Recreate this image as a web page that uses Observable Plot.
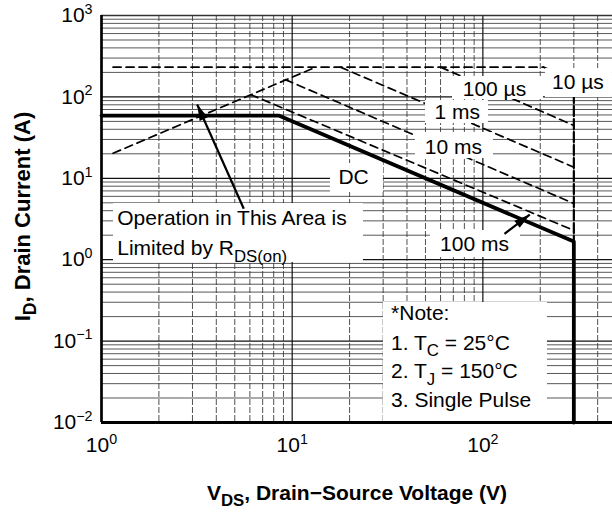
<!DOCTYPE html>
<html><head><meta charset="utf-8">
<script src="https://cdn.jsdelivr.net/npm/d3@7"></script>
<script src="https://cdn.jsdelivr.net/npm/@observablehq/plot@0.6"></script>
<style>
html,body{margin:0;padding:0;background:#fff;}
svg{display:block}
</style></head><body><div id="chart"></div>
<script>
// ---------------- data ----------------
const xTicks = [1, 10, 100];
const yTicks = [0.01, 0.1, 1, 10, 100, 1000];
const xMax = 478.5; // right edge of the visible plot (V)

// SOA boundaries: drain-source voltage V (V) / drain current I (A)
const dcV = [1, 8.5, 300, 300];
const dcI = [59, 59, 1.67, 0.01];
const rdsV = [1.15, 13.3];
const rdsI = [20.3, 232];
const idmV = [1.15, 208];
const idmI = [232, 232];
const us10V = [208, 300];
const us10I = [232, 161];
const edgeV = [300, 300];
const edgeI = [161, 1.67];
const us100V = [60, 300];
const us100I = [232, 44.5];
const ms1V = [17.9, 300];
const ms1I = [232, 13.7];
const ms10V = [9.2, 300];
const ms10I = [163, 4.9];
const ms100V = [6.04, 300];
const ms100I = [107, 2.29];

// centred labels
const labelText = ["100 µs", "10 µs", "1 ms", "10 ms", "DC", "100 ms"];
const labelV = [115, 315, 73.3, 70.1, 21.0, 90.4];
const labelI = [125.8, 150.3, 65.1, 24.2, 10.2, 1.56];

// left-aligned notes
const noteText = ["Operation in This Area is", "Limited by R_{DS(on)}", "*Note:", "1. T_{C} = 25°C", "2. T_{J} = 150°C", "3. Single Pulse"];
const noteV = [1.209, 1.209, 33, 33, 33, 33];
const noteI = [3.21, 1.373, 0.218, 0.0948, 0.0423, 0.0189];

// white label backgrounds
const boxV1 = [213, 69.3, 50.0, 44.3, 15.88, 1.156, 53.1, 30.1];
const boxV2 = [478, 207.8, 107, 113.6, 30.1, 23.65, 157.4, 218.2];
const boxI1 = [223, 178, 90.3, 36.5, 15.2, 4.90, 2.284, 0.298];
const boxI2 = [98.3, 92.9, 47.1, 17.5, 6.69, 0.924, 1.064, 0.01];

// annotation arrows (tail -> tip)
const arrowV1 = [5.574, 129.8];
const arrowI1 = [4.22, 2.08];
const arrowV2 = [3.176, 176.2];
const arrowI2 = [80.7, 3.59];

const xTitle = "V_{DS}, Drain−Source Voltage (V)";
const yTitle = "I_{D}, Drain Current (A)";
const yTitleV = 0.385, yTitleI = 3.39; // anchor of the rotated y title

// ---------------- build ----------------
const FONT = "'Liberation Sans', Arial, Helvetica, sans-serif";
const frameOpts = {
  width: 612, height: 518,
  marginLeft: 101, marginRight: 0, marginTop: 15, marginBottom: 96,
  x: {type: "log", domain: [1, xMax], axis: null},
  y: {type: "log", domain: [0.01, 1000], axis: null},
  style: {fontFamily: FONT, fontSize: "21px", background: "white", overflow: "visible", color: "black"}
};

const decadesX = [0, 1, 2], decadesY = [-2, -1, 0, 1, 2];
const minorX = decadesX.flatMap(e => d3.range(2, 10).map(k => k * 10 ** e)).filter(v => v < xMax);
const minorY = decadesY.flatMap(e => d3.range(2, 10).map(k => k * 10 ** e));
const majorX = [10, 100];
const majorY = [0.1, 1, 10, 100];

const curveDefs = [["rds", rdsV, rdsI], ["idm", idmV, idmI], ["10us", us10V, us10I],
  ["100us", us100V, us100I], ["1ms", ms1V, ms1I], ["10ms", ms10V, ms10I], ["100ms", ms100V, ms100I]];
const dashedRows = curveDefs.flatMap(([name, V, I]) => V.map((v, i) => ({name, V: v, I: I[i]})));
const dcRows = dcV.map((v, i) => ({V: v, I: dcI[i]}));
const edgeRows = edgeV.map((v, i) => ({V: v, I: edgeI[i]}));
const labels = labelText.map((t, i) => ({t, V: labelV[i], I: labelI[i]}));
const notes = noteText.map((t, i) => ({t, V: noteV[i], I: noteI[i]}));
const boxes = boxV1.map((_, i) => ({x1: boxV1[i], x2: boxV2[i], y1: boxI1[i], y2: boxI2[i]}));

const probe = Plot.plot({...frameOpts, marks: [Plot.ruleX(xTicks), Plot.ruleY(yTicks)]});
const sx = probe.scale("x"), sy = probe.scale("y");
const arrows = arrowV1.map((_, i) => {
  const dx = sx.apply(arrowV2[i]) - sx.apply(arrowV1[i]);
  const dy = sy.apply(arrowI2[i]) - sy.apply(arrowI1[i]);
  return {V1: arrowV1[i], I1: arrowI1[i], V2: arrowV2[i], I2: arrowI2[i], angle: Math.atan2(dx, -dy) * 180 / Math.PI};
});
const head = {draw(ctx) { ctx.moveTo(0, 0); ctx.lineTo(4.5, 16); ctx.lineTo(-4.5, 16); ctx.closePath(); }};

const fmtPow = d => { const e = Math.round(Math.log10(d)); return "10^{" + (e < 0 ? "−" + (-e) : e) + "}"; };

const chart = Plot.plot({
  ...frameOpts,
  marks: [
    Plot.ruleY(minorY, {stroke: "#3a3a3a", strokeWidth: 0.85}),
    Plot.ruleY(majorY, {stroke: "#111", strokeWidth: 1.2}),
    Plot.ruleX(minorX, {stroke: "#333", strokeWidth: 0.85, strokeDasharray: "6,2"}),
    Plot.ruleX(majorX, {stroke: "#111", strokeWidth: 1.2}),
    Plot.line(dashedRows, {x: "V", y: "I", z: "name", stroke: "black", strokeWidth: 1.7, strokeDasharray: "8,5"}),
    Plot.line(edgeRows, {x: "V", y: "I", stroke: "black", strokeWidth: 2.2, strokeDasharray: "10,3"}),
    Plot.line(dcRows, {x: "V", y: "I", stroke: "black", strokeWidth: 3.8}),
    Plot.rect(boxes, {x1: "x1", x2: "x2", y1: "y1", y2: "y2", fill: "white"}),
    Plot.text(labels, {x: "V", y: "I", text: "t", fontSize: 21, fill: "black"}),
    Plot.text(notes, {x: "V", y: "I", text: "t", textAnchor: "start", fontSize: 21, fill: "black"}),
    Plot.ruleY([1000], {stroke: "#333", strokeWidth: 1.5}),
    Plot.ruleX([1], {stroke: "black", strokeWidth: 2.7}),
    Plot.ruleY([0.01], {stroke: "black", strokeWidth: 3}),
    Plot.link(arrows, {x1: "V1", y1: "I1", x2: "V2", y2: "I2", stroke: "black", strokeWidth: 2.2}),
    Plot.dot(arrows, {x: "V2", y: "I2", symbol: head, rotate: "angle", fill: "black", stroke: "none"}),
    Plot.text(yTicks, {frameAnchor: "left", y: d => d, text: fmtPow, textAnchor: "end", dx: -9, fontSize: 21, fill: "black"}),
    Plot.text(xTicks, {frameAnchor: "bottom", x: d => d, text: fmtPow, lineAnchor: "top", dy: 15, fontSize: 21, fill: "black"}),
    Plot.text([xTitle], {frameAnchor: "bottom", text: d => d, dy: 77, fontSize: 21, fontWeight: "bold", fill: "black"}),
    Plot.text([yTitle], {x: () => yTitleV, y: () => yTitleI, text: d => d, rotate: -90, fontSize: 22, fontWeight: "bold", fill: "black"})
  ]
});

// turn ^{..} / _{..} into superscript / subscript tspans
function richify(svg) {
  const NS = "http://www.w3.org/2000/svg";
  for (const t of svg.querySelectorAll("text")) {
    const s = t.textContent;
    if (!/[_^]\{/.test(s)) continue;
    t.textContent = "";
    let cur = 0;
    for (const part of s.split(/([_^]\{[^}]*\})/)) {
      if (!part) continue;
      let txt = part, scale = 1, target = 0;
      if (part.startsWith("^{")) { txt = part.slice(2, -1); scale = 0.68; target = -0.4; }
      else if (part.startsWith("_{")) { txt = part.slice(2, -1); scale = 0.8; target = 0.3; }
      const ts = document.createElementNS(NS, "tspan");
      if (scale !== 1) ts.setAttribute("font-size", (scale * 100) + "%");
      const dy = (target - cur) / scale;
      if (Math.abs(dy) > 1e-6) ts.setAttribute("dy", dy.toFixed(3) + "em");
      ts.textContent = txt;
      t.appendChild(ts);
      cur = target;
    }
  }
}
richify(chart);
document.getElementById("chart").appendChild(chart);
</script></body></html>
